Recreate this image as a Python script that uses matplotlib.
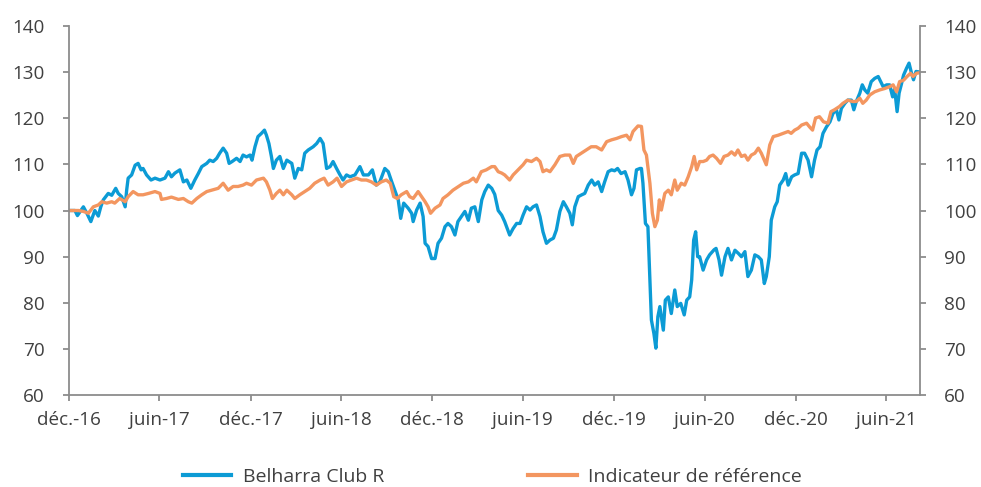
import matplotlib.pyplot as plt
import pandas as pd

plt.rcParams['font.family'] = ['Open Sans', 'DejaVu Sans']

start = pd.Timestamp('2016-12-01')
end_day = 1711

# Belharra Club R (jours depuis le 01/12/2016, base 100)
blue_days = [0, 12, 17, 29, 36, 44, 52, 59, 64, 69, 79, 86, 94, 99, 106, 113, 116, 119, 126, 133,
             139, 145, 149, 156, 165, 173, 183, 193, 200, 206, 213, 223, 230, 237, 245, 253, 260, 267,
             277, 283, 290, 297, 303, 310, 317, 322, 328, 337, 344, 350, 357, 364, 368, 374, 380, 387,
             393, 397, 402, 407, 411, 417, 424, 431, 438, 448, 454, 461, 468, 474, 481, 491, 498, 505,
             511, 518, 525, 531, 538, 545, 551, 558, 565, 575, 585, 592, 602, 610, 618, 625, 635, 642,
             649, 655, 662, 667, 673, 682, 689, 692, 699, 706, 712, 716, 722, 729, 736, 742, 749, 756,
             762, 769, 776, 782, 789, 796, 803, 809, 816, 823, 830, 836, 843, 850, 856, 863, 870, 876,
             886, 893, 900, 907, 913, 920, 927, 933, 940, 947, 953, 960, 967, 974, 980, 987, 994, 1000,
             1007, 1012, 1017, 1024, 1031, 1037, 1044, 1051, 1057, 1064, 1071, 1077, 1084, 1091, 1097,
             1103, 1110, 1118, 1124, 1131, 1136, 1141, 1148, 1151, 1154, 1159, 1164, 1168, 1171, 1176,
             1180, 1184, 1188, 1195, 1199, 1205, 1211, 1218, 1223, 1230, 1237, 1242, 1248, 1252, 1256,
             1260, 1264, 1268, 1275, 1282, 1288, 1297, 1301, 1307, 1312, 1319, 1325, 1332, 1339, 1346,
             1352, 1359, 1365, 1372, 1379, 1386, 1392, 1398, 1402, 1408, 1412, 1419, 1424, 1429, 1436,
             1441, 1446, 1453, 1459, 1466, 1473, 1479, 1486, 1493, 1499, 1504, 1510, 1516, 1523, 1530,
             1536, 1543, 1548, 1553, 1560, 1566, 1573, 1578, 1583, 1590, 1595, 1600, 1606, 1613, 1620,
             1627, 1632, 1637, 1644, 1650, 1656, 1660, 1665, 1669, 1674, 1678, 1684, 1689, 1694, 1698,
             1703, 1709]
blue_vals = [100.0, 100.0, 98.9, 100.8, 99.4, 97.6, 100.0, 98.8, 100.8, 102.3, 103.7, 103.3, 104.8, 103.7,
             103.0, 100.8, 104.4, 107.0, 107.7, 109.8, 110.2, 108.8, 109.1, 107.7, 106.6, 107.0, 106.6,
             107.0, 108.4, 107.3, 108.1, 108.8, 106.2, 106.6, 104.8, 106.6, 108.0, 109.5, 110.2, 110.9,
             110.6, 111.3, 112.4, 113.5, 112.4, 110.2, 110.6, 111.3, 110.6, 112.0, 111.6, 112.0, 110.9,
             113.8, 116.0, 116.7, 117.4, 116.3, 114.5, 111.7, 109.1, 110.9, 111.7, 109.1, 110.9, 110.2,
             107.0, 109.1, 108.8, 112.4, 113.1, 113.8, 114.5, 115.6, 114.5, 109.1, 109.5, 110.6, 109.1,
             107.7, 106.6, 107.7, 107.3, 107.7, 109.5, 107.7, 107.7, 108.8, 105.5, 106.2, 109.1, 108.4,
             106.2, 104.4, 102.3, 98.3, 101.6, 100.5, 99.4, 97.6, 100.1, 101.6, 98.7, 92.9, 92.2, 89.6,
             89.6, 92.9, 94.0, 96.5, 97.2, 96.5, 94.7, 97.6, 98.7, 99.8, 97.9, 100.5, 100.8, 97.6, 102.3,
             104.1, 105.5, 104.8, 103.5, 100.0, 99.0, 97.6, 94.7, 96.1, 97.2, 97.2, 99.0, 100.8, 100.1,
             100.8, 101.2, 98.7, 95.4, 92.9, 93.6, 94.0, 95.8, 99.8, 101.9, 100.8, 99.4, 96.9, 100.8,
             103.0, 103.4, 103.7, 105.5, 106.6, 105.5, 106.2, 104.1, 106.2, 108.4, 108.8, 108.6, 109.1,
             108.0, 108.4, 106.6, 103.4, 104.8, 108.8, 109.1, 109.1, 105.9, 97.2, 96.5, 85.0, 76.3, 73.4,
             70.2, 77.0, 79.2, 74.1, 80.6, 81.3, 77.7, 82.8, 79.2, 79.9, 77.4, 80.6, 81.3, 85.0, 93.6,
             95.4, 90.0, 90.0, 87.1, 89.3, 90.4, 91.5, 91.8, 89.3, 86.0, 90.0, 91.8, 89.3, 91.4, 90.7,
             90.0, 91.1, 85.7, 87.1, 90.4, 90.0, 89.3, 84.2, 85.7, 90.0, 97.9, 100.8, 101.9, 105.5,
             106.6, 108.0, 105.5, 107.3, 107.7, 108.0, 112.4, 112.4, 110.9, 107.3, 110.9, 113.1, 113.8,
             116.7, 118.1, 119.2, 121.0, 121.8, 119.6, 122.1, 123.2, 123.9, 123.9, 121.8, 123.6, 125.4,
             127.2, 126.1, 125.4, 127.9, 128.6, 129.0, 127.9, 126.8, 127.2, 127.2, 124.6, 126.4, 121.4,
             125.4, 127.5, 129.3, 130.8, 131.9, 129.7, 128.3, 130.1, 130.0]

# Indicateur de référence
orange_days = [0, 19, 29, 39, 49, 59, 66, 76, 86, 92, 102, 113, 119, 129, 139, 149, 160, 173, 183, 186,
               196, 206, 220, 230, 240, 247, 257, 267, 277, 287, 300, 310, 320, 330, 340, 350, 357, 367,
               377, 391, 397, 404, 409, 417, 424, 431, 438, 448, 454, 464, 474, 484, 494, 505, 513, 521,
               531, 539, 548, 558, 568, 578, 588, 598, 608, 618, 628, 638, 646, 653, 660, 668, 679, 685,
               692, 702, 709, 716, 722, 727, 736, 746, 752, 762, 772, 783, 793, 803, 813, 819, 829, 839,
               850, 856, 863, 870, 876, 886, 893, 903, 913, 920, 930, 940, 947, 953, 960, 967, 977, 987,
               997, 1007, 1014, 1020, 1030, 1040, 1050, 1060, 1071, 1081, 1091, 1101, 1111, 1121, 1128,
               1134, 1144, 1151, 1156, 1161, 1168, 1173, 1178, 1183, 1187, 1191, 1198, 1205, 1211, 1218,
               1223, 1231, 1238, 1245, 1252, 1257, 1262, 1268, 1275, 1282, 1288, 1295, 1302, 1310, 1317,
               1325, 1332, 1339, 1345, 1352, 1359, 1365, 1372, 1379, 1386, 1392, 1398, 1402, 1409, 1416,
               1426, 1436, 1446, 1452, 1459, 1466, 1473, 1483, 1489, 1495, 1501, 1509, 1517, 1526, 1532,
               1539, 1549, 1556, 1566, 1575, 1583, 1590, 1596, 1603, 1610, 1620, 1630, 1640, 1650, 1657,
               1664, 1670, 1678, 1685, 1692, 1697, 1704, 1709]
orange_vals = [100.0, 100.0, 99.8, 99.4, 100.8, 101.2, 101.9, 101.6, 101.9, 101.6, 102.6, 101.9, 103.0,
               104.1, 103.4, 103.4, 103.7, 104.1, 103.7, 102.4, 102.6, 102.9, 102.4, 102.6, 101.9, 101.6,
               102.6, 103.4, 104.1, 104.4, 104.8, 105.9, 104.4, 105.2, 105.2, 105.5, 105.9, 105.5, 106.6,
               107.0, 106.2, 104.4, 102.6, 103.7, 104.4, 103.4, 104.4, 103.4, 102.6, 103.4, 104.1, 104.8,
               105.9, 106.6, 107.0, 105.5, 106.2, 107.0, 105.2, 106.2, 106.6, 107.0, 106.6, 106.6, 106.2,
               105.5, 106.2, 106.6, 105.9, 103.0, 102.6, 103.4, 104.1, 103.0, 102.6, 104.1, 103.0, 101.9,
               100.8, 99.4, 100.5, 101.2, 102.6, 103.4, 104.4, 105.2, 105.9, 106.2, 107.0, 106.2, 108.4,
               108.8, 109.5, 109.5, 108.4, 108.1, 107.7, 106.6, 107.7, 108.8, 109.9, 110.9, 110.6, 111.3,
               110.6, 108.4, 108.8, 108.4, 109.9, 111.7, 112.0, 112.0, 110.2, 111.7, 112.4, 113.1, 113.8,
               113.8, 113.1, 114.9, 115.3, 115.6, 116.0, 116.3, 115.3, 117.1, 118.3, 118.2, 113.1, 112.0,
               105.9, 99.4, 96.5, 97.9, 102.3, 100.1, 103.7, 104.4, 103.4, 106.6, 104.4, 105.9, 105.5,
               107.3, 109.5, 111.7, 108.8, 110.6, 110.6, 110.9, 111.7, 112.0, 111.3, 110.2, 111.7, 112.0,
               112.7, 112.0, 113.1, 111.7, 112.0, 110.9, 112.0, 112.4, 113.5, 112.4, 110.9, 109.9, 114.2,
               116.0, 116.3, 116.7, 117.1, 116.7, 117.4, 117.8, 118.5, 118.9, 118.1, 117.4, 120.0, 120.3,
               119.2, 118.9, 121.4, 121.8, 122.5, 123.2, 123.9, 123.6, 123.6, 124.3, 123.2, 123.9, 125.0,
               125.7, 126.1, 126.4, 126.8, 127.2, 125.7, 127.9, 128.2, 129.0, 129.7, 129.0, 129.7, 129.8]

tick_dates = ['2016-12-01', '2017-06-01', '2017-12-01', '2018-06-01', '2018-12-01',
              '2019-06-01', '2019-12-01', '2020-06-01', '2020-12-01', '2021-06-01']
tick_labels = ['déc.-16', 'juin-17', 'déc.-17', 'juin-18', 'déc.-18',
               'juin-19', 'déc.-19', 'juin-20', 'déc.-20', 'juin-21']

blue_dates = start + pd.to_timedelta(blue_days, unit='D')
orange_dates = start + pd.to_timedelta(orange_days, unit='D')

text_col = '#404040'
axis_col = '#8c8c8c'

fig = plt.figure(figsize=(9.81, 4.87), dpi=100)
ax = fig.add_axes([0.0703, 0.1883, 0.8675, 0.7589])

ax.plot(blue_dates, blue_vals, color='#0c9bd5', lw=2.4, label='Belharra Club R', solid_joinstyle='round')
ax.plot(orange_dates, orange_vals, color='#f39660', lw=2.4, label='Indicateur de référence', solid_joinstyle='round')

ax.set_xlim(start, start + pd.Timedelta(days=end_day))
ax.set_ylim(60, 140)
ax.set_yticks(range(60, 141, 10))
ax.set_xticks(pd.to_datetime(tick_dates))
ax.set_xticklabels(tick_labels)

for s in ['left', 'right', 'bottom']:
    ax.spines[s].set_color(axis_col)
    ax.spines[s].set_linewidth(1.3)
ax.spines['top'].set_visible(False)

ax.tick_params(axis='y', which='both', left=True, right=True, labelleft=True, labelright=True,
               direction='out', length=4.5, width=1.3, color=axis_col, pad=13,
               labelsize=13.6, labelcolor=text_col)
ax.tick_params(axis='x', direction='out', length=4.5, width=1.3, color=axis_col, pad=7,
               labelsize=13.6, labelcolor=text_col)

leg = fig.legend(loc='center', bbox_to_anchor=(0.502, 0.02), ncol=2, frameon=False,
                 fontsize=14, handlelength=2.5, columnspacing=7.4, handletextpad=0.6)
for t in leg.get_texts():
    t.set_color(text_col)
for l in leg.get_lines():
    l.set_linewidth(3)

fig.savefig('out.png', dpi=100)
